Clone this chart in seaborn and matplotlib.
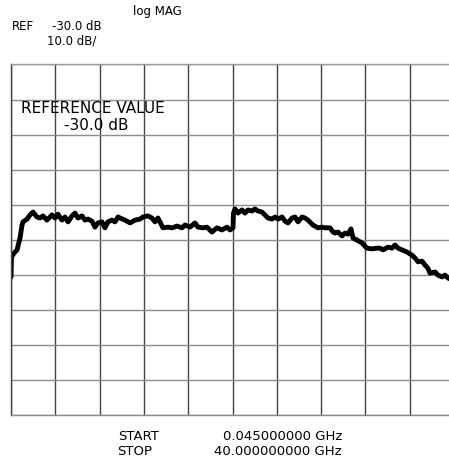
import matplotlib
matplotlib.use('Agg')
import matplotlib.pyplot as plt
import seaborn as sns
import pandas as pd
import numpy as np

# leitura do traço (frequência em GHz, magnitude em dB)
freq_ghz = [0.05, 0.09, 0.32, 0.59, 0.86, 1.04, 1.13, 1.49, 1.76, 2.03,
            2.39, 2.66, 2.93, 3.29, 3.74, 4.01, 4.28, 4.64, 4.92, 5.19,
            5.55, 5.82, 6.09, 6.45, 6.72, 6.99, 7.35, 7.62, 7.89, 8.25,
            8.52, 8.79, 9.15, 9.42, 9.70, 9.88, 10.33, 10.78, 11.23, 11.68,
            11.95, 12.40, 12.76, 13.03, 13.30, 13.75, 14.20, 14.57, 15.02, 15.47,
            15.74, 16.19, 16.64, 16.91, 17.36, 17.72, 18.17, 18.62, 19.07, 19.53,
            19.80, 20.07, 20.11, 20.25, 20.52, 20.88, 21.15, 21.42, 21.78, 22.05,
            22.32, 22.68, 22.95, 23.22, 23.58, 23.86, 24.13, 24.49, 24.76, 25.03,
            25.39, 25.66, 25.93, 26.29, 26.56, 26.83, 27.28, 27.73, 28.09, 28.36,
            28.82, 29.09, 29.27, 29.54, 29.90, 30.17, 30.44, 30.71, 30.89, 31.25,
            31.70, 32.15, 32.60, 33.06, 33.33, 33.60, 34.05, 34.41, 34.68, 34.95,
            35.31, 35.76, 36.21, 36.48, 36.75, 37.11, 37.38, 37.65, 37.83, 38.29,
            38.56, 38.92, 39.19, 39.46, 40.00]
mag_db = [-40.6, -34.9, -33.8, -32.9, -29.5, -25.8, -24.9, -24.1, -22.9, -22.1,
          -23.5, -23.8, -23.2, -24.4, -22.9, -23.8, -22.7, -24.4, -23.5, -24.9,
          -23.2, -22.4, -23.8, -23.2, -24.4, -24.1, -24.7, -26.4, -25.2, -24.9,
          -26.6, -24.9, -24.4, -24.9, -23.5, -23.8, -24.4, -25.2, -24.4, -24.1,
          -23.5, -23.2, -23.8, -24.9, -23.8, -26.6, -26.4, -26.6, -26.1, -26.6,
          -25.8, -26.4, -25.2, -26.4, -26.6, -26.4, -27.8, -26.6, -27.2, -26.4,
          -27.2, -26.6, -22.4, -21.2, -22.4, -21.5, -22.4, -21.5, -21.8, -21.2,
          -21.8, -22.1, -22.9, -23.8, -24.1, -23.5, -24.1, -23.5, -24.7, -25.2,
          -23.8, -23.5, -24.9, -23.5, -23.8, -24.4, -25.8, -26.6, -26.4, -26.6,
          -26.6, -27.8, -28.1, -27.8, -28.9, -28.1, -28.4, -26.9, -29.5, -30.1,
          -30.9, -32.4, -32.6, -32.4, -32.4, -32.9, -32.1, -32.4, -31.5, -32.4,
          -32.9, -33.5, -34.4, -35.2, -36.3, -36.1, -37.2, -38.1, -39.5, -39.2,
          -40.1, -40.6, -40.1, -40.9, -41.8]

start_ghz = 0.045
stop_ghz = 40.0
ref_db = -30.0
scale_db = 10.0

df = pd.DataFrame({'freq': freq_ghz, 'mag': mag_db})

sns.set_style('white')
plt.rcParams['font.family'] = ['DejaVu Sans']
plt.rcParams['text.color'] = 'black'

fig = plt.figure(figsize=(4.49, 4.61), dpi=100)
ax = fig.add_axes([11 / 449, 1 - 415 / 461, 443 / 449, 350.5 / 461])

sns.lineplot(data=df, x='freq', y='mag', sort=False, estimator=None,
             color='black', linewidth=3.5, ax=ax,
             solid_joinstyle='round', solid_capstyle='round')

ax.set_xlim(start_ghz, stop_ghz)
ax.set_ylim(ref_db - 5 * scale_db, ref_db + 5 * scale_db)
ax.set_xticks(np.linspace(start_ghz, stop_ghz, 11))
ax.set_yticks(np.arange(ref_db - 5 * scale_db, ref_db + 5 * scale_db + 1, scale_db))
ax.xaxis.grid(True, color='#444444', linewidth=1.0)
ax.yaxis.grid(True, color='#8c8c8c', linewidth=1.0)
ax.set_axisbelow(True)
ax.tick_params(left=False, bottom=False, labelleft=False, labelbottom=False)
ax.set_xlabel('')
ax.set_ylabel('')
ax.spines['left'].set_color('#444444')
ax.spines['top'].set_color('#9a9a9a')
ax.spines['bottom'].set_color('#8c8c8c')
ax.spines['right'].set_color('#444444')
for s in ax.spines.values():
    s.set_linewidth(1.0)


def fy(py):
    return 1 - py / 461


def fx(px):
    return px / 449


small = 8.5
fig.text(fx(157), fy(15), 'log MAG', fontsize=small, ha='center', va='baseline')
fig.text(fx(12), fy(30), 'REF', fontsize=small, ha='left', va='baseline')
fig.text(fx(52), fy(30), '-30.0 dB', fontsize=small, ha='left', va='baseline')
fig.text(fx(47), fy(45), '10.0 dB/', fontsize=small, ha='left', va='baseline')

fig.text(fx(21), fy(113), 'REFERENCE VALUE', fontsize=11, ha='left', va='baseline')
fig.text(fx(64), fy(130), '-30.0 dB', fontsize=11, ha='left', va='baseline')

fig.text(fx(118), fy(440), 'START', fontsize=9.5, ha='left', va='baseline')
fig.text(fx(342), fy(440), '0.045000000 GHz', fontsize=9.5, ha='right', va='baseline')
fig.text(fx(117), fy(455), 'STOP', fontsize=9.5, ha='left', va='baseline')
fig.text(fx(342), fy(455), '40.000000000 GHz', fontsize=9.5, ha='right', va='baseline')

fig.savefig('out.png', dpi=100)
